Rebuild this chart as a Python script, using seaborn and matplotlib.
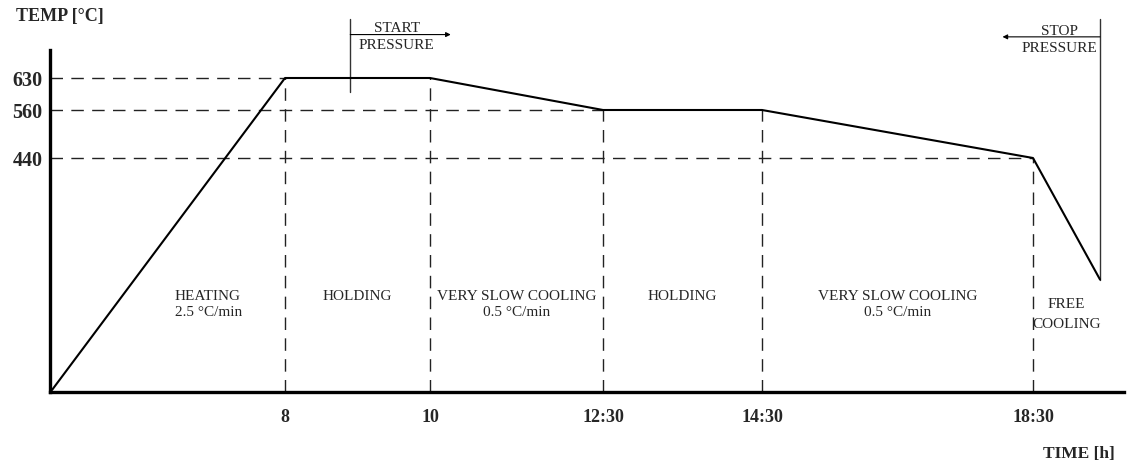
import numpy as np
import pandas as pd
import matplotlib
matplotlib.use("Agg")
import matplotlib.pyplot as plt
import matplotlib.transforms as mtransforms
import seaborn as sns

# ---- process data -------------------------------------------------------
time_h = [0, 8, 10, 12.5, 14.5, 18.5, 19.5]          # breakpoints of the cycle [h]
temp_c = [20, 630, 630, 560, 560, 440, 220]          # furnace temperature [°C]

tick_times = [8, 10, 12.5, 14.5, 18.5]
tick_time_labels = ["8", "10", "12:30", "14:30", "18:30"]
temp_levels = [630, 560, 440]
temp_level_labels = ["630", "560", "440"]

stage_labels = ["HEATING\n2.5 °C/min", "HOLDING", "VERY SLOW COOLING\n0.5 °C/min",
                "HOLDING", "VERY SLOW COOLING\n0.5 °C/min", "FREE\nCOOLING"]

pressure_start_h = 8.9
pressure_stop_h = 19.5

# ---- schematic (non-proportional) axes ------------------------------------
# every stage of the cycle gets its own drawing width / height
x_knots_h = [0, 8, 10, 12.5, 14.5, 18.5, 19.5]
x_knots_u = [52, 285, 430, 603, 762, 1033, 1100]
y_knots_c = [20, 440, 560, 630]
y_knots_u = [73, 305, 353, 385]


def piecewise(src, dst):
    src = np.asarray(src, float)
    dst = np.asarray(dst, float)

    def build(a, b):
        def f(v):
            v = np.asarray(v, float)
            out = np.interp(v, a, b)
            lo_slope = (b[1] - b[0]) / (a[1] - a[0])
            hi_slope = (b[-1] - b[-2]) / (a[-1] - a[-2])
            out = np.where(v < a[0], b[0] + (v - a[0]) * lo_slope, out)
            out = np.where(v > a[-1], b[-1] + (v - a[-1]) * hi_slope, out)
            return out
        return f

    return build(src, dst), build(dst, src)


x_fwd, x_inv = piecewise(x_knots_h, x_knots_u)
y_fwd, y_inv = piecewise(y_knots_c, y_knots_u)

# ---- figure ----------------------------------------------------------------
sns.set_style("white")
plt.rcParams["font.family"] = ["Liberation Serif", "DejaVu Serif"]

W, H = 1130, 463
fig = plt.figure(figsize=(W / 100, H / 100), dpi=100)
ax = fig.add_axes([50 / W, (H - 392) / H, (1124 - 50) / W, (392 - 50) / H])

ax.set_xscale("function", functions=(x_fwd, x_inv))
ax.set_yscale("function", functions=(y_fwd, y_inv))
x0, x1 = float(x_inv(50)), float(x_inv(1124))
y0, y1 = float(y_inv(H - 392)), float(y_inv(H - 50))
ax.set_xlim(x0, x1)
ax.set_ylim(y0, y1)

df = pd.DataFrame({"time": time_h, "temp": temp_c})

# dashed guide lines
guide = dict(color="#222222", lw=1.0, linestyle=(0, (9, 6)), zorder=1)
for t, T in zip(time_h[1:-1], temp_c[1:-1]):
    ax.vlines(t, y0, T, **guide)
for level in temp_levels:
    t_first = next(t for t, T in zip(time_h, temp_c) if T == level)
    ax.hlines(level, x0, t_first, **guide)

# temperature curve
sns.lineplot(data=df, x="time", y="temp", sort=False, color="black",
             lw=1.5, ax=ax, zorder=3)

# pressure markers
ax.plot([pressure_start_h, pressure_start_h], [600, 760], color="#333333",
        lw=1.0, clip_on=False)
ax.annotate("", xy=(10.3, 725), xytext=(pressure_start_h, 725),
            arrowprops=dict(arrowstyle="-|>", lw=0.8, color="black",
                            mutation_scale=7, shrinkA=0, shrinkB=0),
            annotation_clip=False)
ax.text(9.54, 719, "START\nPRESSURE", ha="center", va="center", fontsize=11,
        linespacing=1.42, clip_on=False)

ax.plot([pressure_stop_h, pressure_stop_h], [temp_c[-1], 760], color="#333333",
        lw=1.0, clip_on=False)
ax.annotate("", xy=(18.05, 720), xytext=(pressure_stop_h, 720),
            arrowprops=dict(arrowstyle="-|>", lw=0.8, color="black",
                            mutation_scale=7, shrinkA=0, shrinkB=0),
            annotation_clip=False)
ax.text(18.89, 714, "STOP\nPRESSURE", ha="center", va="center", fontsize=11,
        linespacing=1.38, clip_on=False)

# stage labels
blend = mtransforms.blended_transform_factory(ax.transData, ax.transAxes)
for i, label in enumerate(stage_labels):
    a, b = time_h[i], time_h[i + 1]
    xc = float(x_inv((x_fwd(a) + x_fwd(b)) / 2))
    if i == 0:
        ax.text(4.22, 0.298, label, transform=blend, ha="left", va="top",
                fontsize=11, linespacing=1.33)
    elif i == len(stage_labels) - 1:
        ax.text(xc, 0.275, label, transform=blend, ha="center", va="top",
                fontsize=11, linespacing=1.68)
    else:
        ax.text(xc, 0.298, label, transform=blend, ha="center", va="top",
                fontsize=11, linespacing=1.33)

# axes styling
ax.set_xticks(tick_times)
ax.set_xticklabels(tick_time_labels, fontsize=13, fontweight="bold")
ax.set_yticks(temp_levels)
ax.set_yticklabels(temp_level_labels, fontsize=14.5, fontweight="bold")
ax.xaxis.set_minor_locator(matplotlib.ticker.NullLocator())
ax.yaxis.set_minor_locator(matplotlib.ticker.NullLocator())
ax.tick_params(axis="x", length=0, pad=12.5)
ax.tick_params(axis="y", length=0, pad=5.5)
ax.set_xlabel("")
ax.set_ylabel("")
for side in ("top", "right"):
    ax.spines[side].set_visible(False)
for side in ("left", "bottom"):
    ax.spines[side].set_linewidth(2.4)
    ax.spines[side].set_color("black")

fig.text(16 / W, 1 - 16 / H, "TEMP [°C]", ha="left", va="center",
         fontsize=13, fontweight="bold")
fig.text(1115 / W, 1 - 454 / H, "TIME [h]", ha="right", va="center",
         fontsize=12.5, fontweight="bold")

fig.savefig("out.png", dpi=100)
